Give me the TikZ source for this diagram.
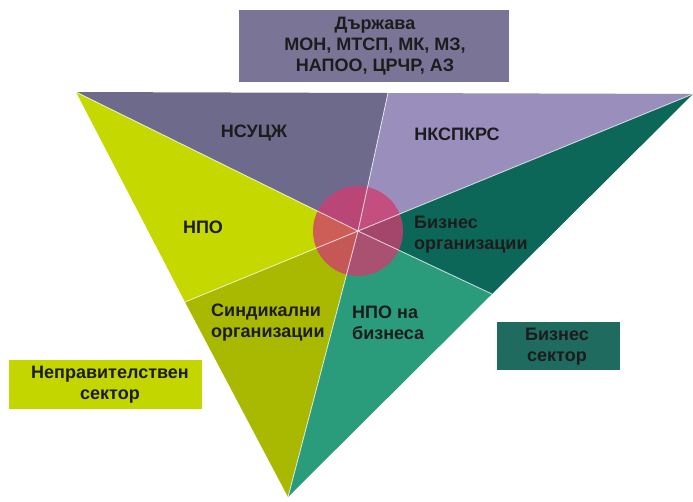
\documentclass[tikz,border=0pt]{standalone}
\usepackage{fontspec}
\setmainfont{Liberation Sans}
\begin{document}
\begin{tikzpicture}[x=1pt,y=-1pt,
  lbl/.style={font=\bfseries\fontsize{18}{21}\selectfont, text=txt, inner sep=0pt},
  boxlbl/.style={lbl, align=center, inner sep=0pt},
  sep/.style={draw=white, draw opacity=0.7, line width=0.9pt}]
\definecolor{txt}{HTML}{1C1C1C}
\definecolor{cTL}{HTML}{6E6A8C}
\definecolor{cTR}{HTML}{9A8FBC}
\definecolor{cNPO}{HTML}{C5D800}
\definecolor{cSind}{HTML}{A9B800}
\definecolor{cNPOB}{HTML}{2A9C7C}
\definecolor{cBiz}{HTML}{0D6759}
\definecolor{cTop}{HTML}{7A7597}
\definecolor{cLeft}{HTML}{C4D600}
\definecolor{cRight}{HTML}{1F6B60}
\definecolor{cCirc}{HTML}{CF3C70}
\useasboundingbox (0,0) rectangle (693,501);
\fill[white] (0,0) rectangle (693,501);
% key points
\coordinate (A) at (76,92);
\coordinate (B) at (693,94);
\coordinate (D) at (288,497);
\coordinate (C) at (358,231);
\coordinate (MT) at (388,93);
\coordinate (ML) at (185,302);
\coordinate (MR) at (492,294);
% sectors
\fill[cTL] (A) -- (MT) -- (C) -- cycle;
\fill[cTR] (MT) -- (B) -- (C) -- cycle;
\fill[cNPO] (A) -- (C) -- (ML) -- cycle;
\fill[cSind] (ML) -- (C) -- (D) -- cycle;
\fill[cNPOB] (D) -- (C) -- (MR) -- cycle;
\fill[cBiz] (MR) -- (C) -- (B) -- cycle;
% circle
\node[circle, minimum size=90pt, inner sep=0pt, fill=cCirc, fill opacity=0.78] (circ) at (C) {};
% separators
\draw[sep] (C) -- (A);
\draw[sep] (C) -- (MT);
\draw[sep] (C) -- (B);
\draw[sep] (C) -- (ML);
\draw[sep] (C) -- (D);
\draw[sep] (C) -- (MR);
% sector labels
\node[lbl] (l1) at (254,133) {НСУЦЖ};
\node[lbl] (l2) at (457,134) {НКСПКРС};
\node[lbl] (l3) at (203,227) {НПО};
\node[lbl, align=left, anchor=west] (l4) at (414,235) {Бизнес\\организации};
\node[lbl, align=left, anchor=west] (l5) at (211,323) {Синдикални\\организации};
\node[lbl, align=left, anchor=west] (l6) at (352,323) {НПО на\\бизнеса};
% boxes
\fill[cTop] (239,10) rectangle (509,82);
\node[boxlbl] (top) at (375,46) {Държава\\МОН, МТСП, МК, МЗ,\\НАПОО, ЦРЧР, АЗ};
\fill[cLeft] (9,360) rectangle (202,409);
\node[boxlbl] (left) at (110,385) {Неправителствен\\сектор};
\fill[cRight] (497,322) rectangle (620,370);
\node[boxlbl] (right) at (557,347) {Бизнес\\сектор};
\end{tikzpicture}
\end{document}
